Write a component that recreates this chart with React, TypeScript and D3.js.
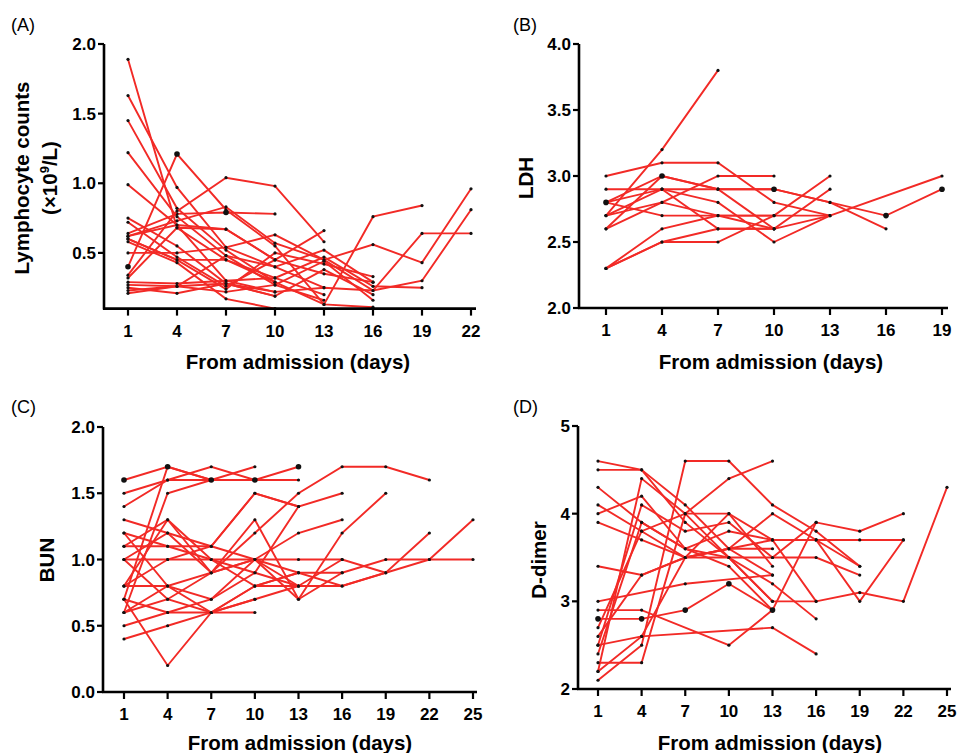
import React, { useEffect, useRef } from 'react';
import * as d3 from 'd3';

// days sampled every 3 days from admission
const days = [1, 4, 7, 10, 13, 16, 19, 22, 25];

// (A) lymphocyte counts, one row per patient, values at days 1,4,7,...
const lymphocyte = [
  [1.89, 0.68, 0.45, 0.32, 0.2],
  [1.63, 0.97, 0.54, 0.4, 0.25],
  [1.45, 0.82, 0.52, 0.29],
  [1.22, 0.76, 0.48, 0.27, 0.16],
  [0.99, 0.7, 0.3, 0.22],
  [0.4, 1.21, 0.81, 0.55, 0.13, 0.76, 0.84],
  [0.75, 0.55, 0.28, 0.19],
  [0.72, 0.47, 0.26, 0.45, 0.66],
  [0.64, 0.78, 0.79, 0.78],
  [0.62, 0.73, 0.83, 0.57, 0.45, 0.56, 0.43, 0.96],
  [0.6, 0.45, 0.24, 0.5, 0.42, 0.33],
  [0.58, 0.43, 0.17, 0.1],
  [0.5, 0.5, 0.54, 0.63, 0.45, 0.23, 0.64, 0.64],
  [0.34, 0.8, 1.04, 0.98, 0.58],
  [0.32, 0.68, 0.67, 0.45, 0.35, 0.29],
  [0.29, 0.28, 0.3, 0.32, 0.47, 0.26, 0.25],
  [0.27, 0.26, 0.28, 0.19, 0.38, 0.2],
  [0.25, 0.21, 0.28, 0.22, 0.25, 0.23, 0.3, 0.81],
  [0.23, 0.26, 0.22, 0.27, 0.44, 0.16],
  [0.21, 0.26, 0.48, 0.4, 0.52, 0.29],
  [0.6, 0.45, 0.45, 0.29, 0.13, 0.11],
  [0.62, 0.7, 0.67, 0.45],
];
const lymphocyteBig = [[1, 0.4], [4, 1.21], [7, 0.79]];

// (B) LDH
const ldh = [
  [2.7, 3.2, 3.8],
  [3.0, 3.1, 3.1, 2.8, 2.7],
  [2.9, 2.9, 2.9, 2.9, 2.8, 2.7, 2.9],
  [2.8, 3.0, 2.9, 2.9, 2.8, 2.6],
  [2.8, 2.7, 2.7, 2.7, 2.7],
  [2.6, 2.8, 3.0, 3.0],
  [2.7, 2.9, 2.8, 2.5, 2.7],
  [2.6, 3.0, 2.9, 2.6, 2.9],
  [2.3, 2.5, 2.6, 2.6, 2.7, null, 3.0],
  [2.3, 2.6, 2.7, 2.6],
  [2.3, 2.5, 2.5, 2.7, 3.0],
  [2.7, 2.8, 2.7, 2.7],
  [2.8, 2.9, 2.6, 2.6],
];
const ldhBig = [[1, 2.8], [4, 3.0], [10, 2.9], [16, 2.7], [19, 2.9]];

// (C) BUN
const bun = [
  [1.6, 1.7, 1.6, 1.6, 1.7],
  [1.5, 1.6, 1.7, 1.6, 1.6],
  [1.4, 1.6, 1.6, 1.7],
  [0.7, 1.7, 1.6, 1.6],
  [0.6, 1.5, 1.6, 1.6],
  [1.3, 1.2, 1.1, 1.0, 0.9, 0.9, 1.0, 1.0, 1.3],
  [1.2, 1.1, 1.0, 0.9, 0.8, 0.8, 0.9, 1.2],
  [1.1, 1.1, 1.1, 1.5, 1.4],
  [1.0, 1.0, 1.0, 1.0, 1.0, 1.0, 0.9],
  [0.8, 1.3, 0.9, 1.3, 0.7, 0.9],
  [0.8, 0.8, 0.9, 1.2, 1.5, 1.7, 1.7, 1.6],
  [0.7, 0.6, 0.6, 0.6],
  [0.6, 0.7, 0.9, 1.0, 1.2, 1.3],
  [0.5, 0.6, 0.7, 0.9, 1.4, 1.5],
  [0.4, 0.5, 0.6, 0.8, 0.9, 0.8, 0.9, 1.0, 1.0],
  [1.0, 0.7, 0.6, 0.7, 0.8],
  [0.7, 0.2, 0.6, 0.8, 0.9],
  [1.1, 1.3, 1.0, 0.8, 0.8],
  [0.8, 1.0, 1.1, 1.5, 1.4],
  [1.2, 0.8, 0.6, 0.7],
  [1.0, 1.2, 0.9, 1.0, 0.8, 1.0],
  [0.6, 0.8, 0.7, 1.0, 0.7, 1.2, 1.5],
];
const bunBig = [[1, 1.6], [4, 1.7], [7, 1.6], [10, 1.6], [13, 1.7]];

// (D) D-dimer
const dDimer = [
  [4.6, 4.5, 3.9, 3.5, 3.0],
  [4.5, 4.5, 4.1, 3.6, 3.3],
  [2.2, 4.4, 4.0, 3.5, 3.2, 2.8],
  [4.3, 3.9, 3.6, 3.4, 2.9],
  [4.1, 3.8, 3.5, 3.5, 3.5, 3.5, 3.3],
  [4.0, 4.2, 3.6, 3.8, 3.7, 3.7, 3.7, 3.7],
  [3.9, 3.7, 3.5, 3.6, 4.0, 3.7, 3.4],
  [3.4, 3.3, 3.5, 4.0, 3.4],
  [2.1, 2.5, 4.6, 4.6, 4.1, 3.8, 3.4],
  [2.3, 2.3, 4.0, 4.4, 4.6],
  [2.5, 4.1, 3.8, 3.9, 3.5, 3.9, 3.8, 4.0],
  [2.8, 2.8, 2.9, 3.2, 2.9, 3.9],
  [2.9, 2.9, null, 2.5, 2.9],
  [2.5, 2.6, null, null, 2.7, 2.4],
  [3.0, null, 3.2, null, 3.3],
  [2.7, 3.8, 4.0, 4.0, 3.7, 3.0],
  [2.6, 3.3, 3.5, 3.6, 3.6],
  [2.4, 3.9, 3.6, 3.5, 3.0, 3.0, 3.1, 3.0, 4.3],
  [2.2, 2.6, 3.5, 3.6, 3.7, 3.7, 3.0, 3.7],
];
const dDimerBig = [[1, 2.8], [4, 2.8], [7, 2.9], [10, 3.2], [13, 2.9]];

const panels = [
  {
    tag: '(A)', data: lymphocyte, big: lymphocyteBig, ticksX: days.slice(0, 8), yDomain: [0.1, 2.0], yTicks: [0.5, 1.0, 1.5, 2.0],
    fmt: d3.format('.1f'), axisX: 104, xRange: [128, 471], xEnd: 476, yRange: [308.6, 44],
    title: [['Lymphocyte counts'], ['(×10', '9', '/L)']], titleX: [22, 50], titleY: 178,
    tagPos: [11, 31], xTitle: [298, 369],
  },
  {
    tag: '(B)', data: ldh, big: ldhBig, ticksX: days.slice(0, 7), yDomain: [2.0, 4.0], yTicks: [2.0, 2.5, 3.0, 3.5, 4.0],
    fmt: d3.format('.1f'), axisX: 579, xRange: [606, 942], xEnd: 948, yRange: [308, 44],
    title: [['LDH']], titleX: [526], titleY: 178,
    tagPos: [513, 31], xTitle: [771, 369],
  },
  {
    tag: '(C)', data: bun, big: bunBig, ticksX: days, yDomain: [0, 2.0], yTicks: [0, 0.5, 1.0, 1.5, 2.0],
    fmt: d3.format('.1f'), axisX: 103, xRange: [124, 473], xEnd: 477, yRange: [692, 427],
    title: [['BUN']], titleX: [47], titleY: 560,
    tagPos: [11, 413], xTitle: [300, 750],
  },
  {
    tag: '(D)', data: dDimer, big: dDimerBig, ticksX: days, yDomain: [2, 5], yTicks: [2, 3, 4, 5],
    fmt: d3.format('d'), axisX: 578, xRange: [598, 947], xEnd: 951, yRange: [689, 426],
    title: [['D-dimer']], titleX: [539], titleY: 560,
    tagPos: [513, 413], xTitle: [770, 750],
  },
];

const font = '"Liberation Sans", Arial, sans-serif';
const lineColor = '#f22a26';

export default function App() {
  const svgRef = useRef<SVGSVGElement>(null);

  useEffect(() => {
    const svg = d3.select(svgRef.current);
    svg.selectAll('*').remove();

    panels.forEach(p => {
      const x = d3.scaleLinear().domain([p.ticksX[0], p.ticksX[p.ticksX.length - 1]]).range(p.xRange);
      const y = d3.scaleLinear().domain(p.yDomain).range(p.yRange);
      const baseY = p.yRange[0];
      const g = svg.append('g');

      // series lines + dots
      const line = d3.line<[number, number]>().x(d => x(d[0])).y(d => y(d[1]));
      p.data.forEach(row => {
        const pts = row
          .map((v, i) => [days[i], v] as [number, number | null])
          .filter(d => d[1] !== null) as [number, number][];
        g.append('path')
          .attr('d', line(pts))
          .attr('fill', 'none')
          .attr('stroke', lineColor)
          .attr('stroke-width', 1.9);
        g.selectAll(null)
          .data(pts)
          .enter().append('circle')
          .attr('cx', d => x(d[0]))
          .attr('cy', d => y(d[1]))
          .attr('r', 1.6)
          .attr('fill', '#111');
      });
      g.selectAll(null)
        .data(p.big)
        .enter().append('circle')
        .attr('cx', d => x(d[0]))
        .attr('cy', d => y(d[1]))
        .attr('r', 2.8)
        .attr('fill', '#111');

      // axes
      g.append('line')
        .attr('x1', p.axisX).attr('x2', p.axisX)
        .attr('y1', p.yRange[1]).attr('y2', baseY + 1)
        .attr('stroke', '#000').attr('stroke-width', 2.6);
      g.append('line')
        .attr('x1', p.axisX - 1).attr('x2', p.xEnd)
        .attr('y1', baseY).attr('y2', baseY)
        .attr('stroke', '#000').attr('stroke-width', 2.6);

      p.yTicks.forEach(t => {
        g.append('line')
          .attr('x1', p.axisX - 6).attr('x2', p.axisX)
          .attr('y1', y(t)).attr('y2', y(t))
          .attr('stroke', '#000').attr('stroke-width', 2.2);
        g.append('text')
          .attr('x', p.axisX - 8).attr('y', y(t) + 6)
          .attr('text-anchor', 'end')
          .style('font-family', font).style('font-size', '17px').style('font-weight', 'bold')
          .text(p.fmt(t));
      });

      p.ticksX.forEach(t => {
        g.append('line')
          .attr('x1', x(t)).attr('x2', x(t))
          .attr('y1', baseY).attr('y2', baseY + 7)
          .attr('stroke', '#000').attr('stroke-width', 2.2);
        g.append('text')
          .attr('x', x(t)).attr('y', baseY + 28)
          .attr('text-anchor', 'middle')
          .style('font-family', font).style('font-size', '17px').style('font-weight', 'bold')
          .text(t);
      });

      // titles
      g.append('text')
        .attr('x', p.xTitle[0]).attr('y', p.xTitle[1])
        .attr('text-anchor', 'middle')
        .style('font-family', font).style('font-size', '20.5px').style('font-weight', 'bold')
        .text('From admission (days)');

      p.title.forEach((parts, i) => {
        const t = g.append('text')
          .attr('transform', `translate(${p.titleX[i] + 7}, ${p.titleY}) rotate(-90)`)
          .attr('text-anchor', 'middle')
          .style('font-family', font).style('font-size', '20.5px').style('font-weight', 'bold');
        parts.forEach((s, j) => {
          const span = t.append('tspan').text(s);
          if (j === 1) span.attr('dy', -8).style('font-size', '13px');
          if (j === 2) span.attr('dy', 8);
        });
      });

      g.append('text')
        .attr('x', p.tagPos[0]).attr('y', p.tagPos[1])
        .style('font-family', font).style('font-size', '18px')
        .text(p.tag);
    });
  }, []);

  return (
    <svg
      ref={svgRef}
      width={960}
      height={753}
      style={{ position: 'absolute', left: 0, top: 0, background: '#fff' }}
    />
  );
}
